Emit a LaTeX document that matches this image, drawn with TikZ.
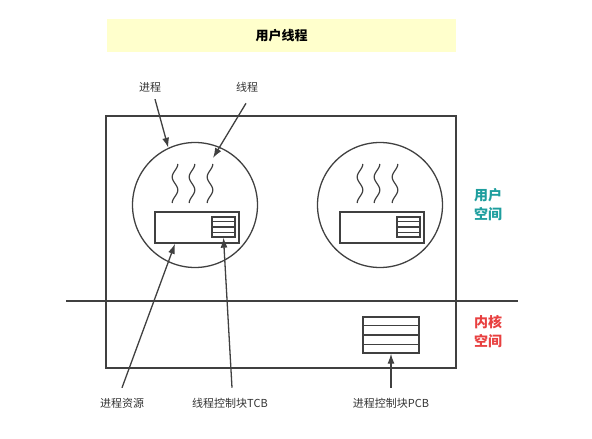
\documentclass[tikz,border=0pt]{standalone}
\usepackage{fontspec}
\setmainfont{Noto Sans CJK SC}
\usetikzlibrary{arrows.meta,calc}
\definecolor{linegray}{HTML}{404040}
\definecolor{banneryellow}{HTML}{FFFFCC}
\definecolor{userteal}{HTML}{1E9E9E}
\definecolor{kernelred}{HTML}{E84040}
\tikzset{
  ln/.style = {draw=linegray, line width=1.6pt},
  arr/.style = {linegray, line width=1.3pt, -{Latex[length=10pt,width=7pt]}},
  lbl/.style = {font=\fontsize{11}{13}\selectfont, text=black!80, inner sep=1pt},
  side/.style = {font=\fontsize{14}{19}\selectfont\bfseries, align=center, inner sep=0pt},
  procc/.style = {circle, draw=linegray, line width=1.3pt, minimum size=125pt, inner sep=0pt},
  resbox/.style = {rectangle, ln, minimum width=84pt, minimum height=31pt, inner sep=0pt},
  tcbbox/.style = {rectangle, draw=linegray, line width=1.3pt, minimum width=23pt, minimum height=20pt, inner sep=0pt},
  pcbbox/.style = {rectangle, draw=linegray, line width=1.3pt, minimum width=56pt, minimum height=36pt, inner sep=0pt}
}
\begin{document}
\begin{tikzpicture}[x = 1pt, y = -1pt]
  \useasboundingbox (0,0) rectangle (592,439);
  \node[fill=banneryellow, minimum width=349pt, minimum height=33pt, font=\fontsize{13}{15}\selectfont\bfseries] (title) at (281.5,35.5) {用户线程}; %banner
  \draw[ln] (106,116) rectangle (456,368); %process box
  \draw[ln] (66,301) -- (518,301); %user/kernel border
  \node[side, text=userteal] (user) at (488,205) {用户\\空间};
  \node[side, text=kernelred] (kernel) at (488,332) {内核\\空间};
  % two processes
  \foreach \n/\cx in {1/195, 2/380} {
    \node[procc] (c\n) at (\cx,205) {};
    \foreach \dx in {-20,-3,15}
      \draw[linegray, line width=1.2pt, smooth, samples = 40, domain = 0:1] plot ({\cx+\dx+2.8*cos(540*\x)}, {164+39*\x});
    \node[resbox] (r\n) at (\cx+2,227.5) {};
    \node[tcbbox] (t\n) at (\cx+28.5,227) {};
    \foreach \k in {1,2,3}
      \draw[linegray, line width=1.1pt] ($(t\n.north west)!\k/4!(t\n.south west)$) -- ($(t\n.north east)!\k/4!(t\n.south east)$);
  }
  \node[pcbbox] (pcb) at (391,335) {}; %PCB
  \foreach \k in {1,2,3}
    \draw[linegray, line width=1.1pt] ($(pcb.north west)!\k/4!(pcb.south west)$) -- ($(pcb.north east)!\k/4!(pcb.south east)$);
  % labels
  \node[lbl] (proc) at (150,87) {进程};
  \node[lbl] (thr) at (247,87) {线程};
  \node[lbl] (res) at (122,403) {进程资源};
  \node[lbl] (tcb) at (230,403) {线程控制块TCB};
  \node[lbl] (pcbl) at (391,403) {进程控制块PCB};
  \coordinate (w3) at (213,158);
  \draw[arr] ([xshift=5pt, yshift=-6pt]proc.south) -- (c1.115);
  \draw[arr] ([xshift=-1pt, yshift=-10pt]thr.south) -- (w3);
  \draw[arr] ([yshift=9pt]res.north) -- ([xshift=-22pt]r1.south);
  \draw[arr] ([xshift=2pt, yshift=9pt]tcb.north) -- (t1.south);
  \draw[arr] ([yshift=9pt]pcbl.north) -- (pcb.south);
\end{tikzpicture}
\end{document}
